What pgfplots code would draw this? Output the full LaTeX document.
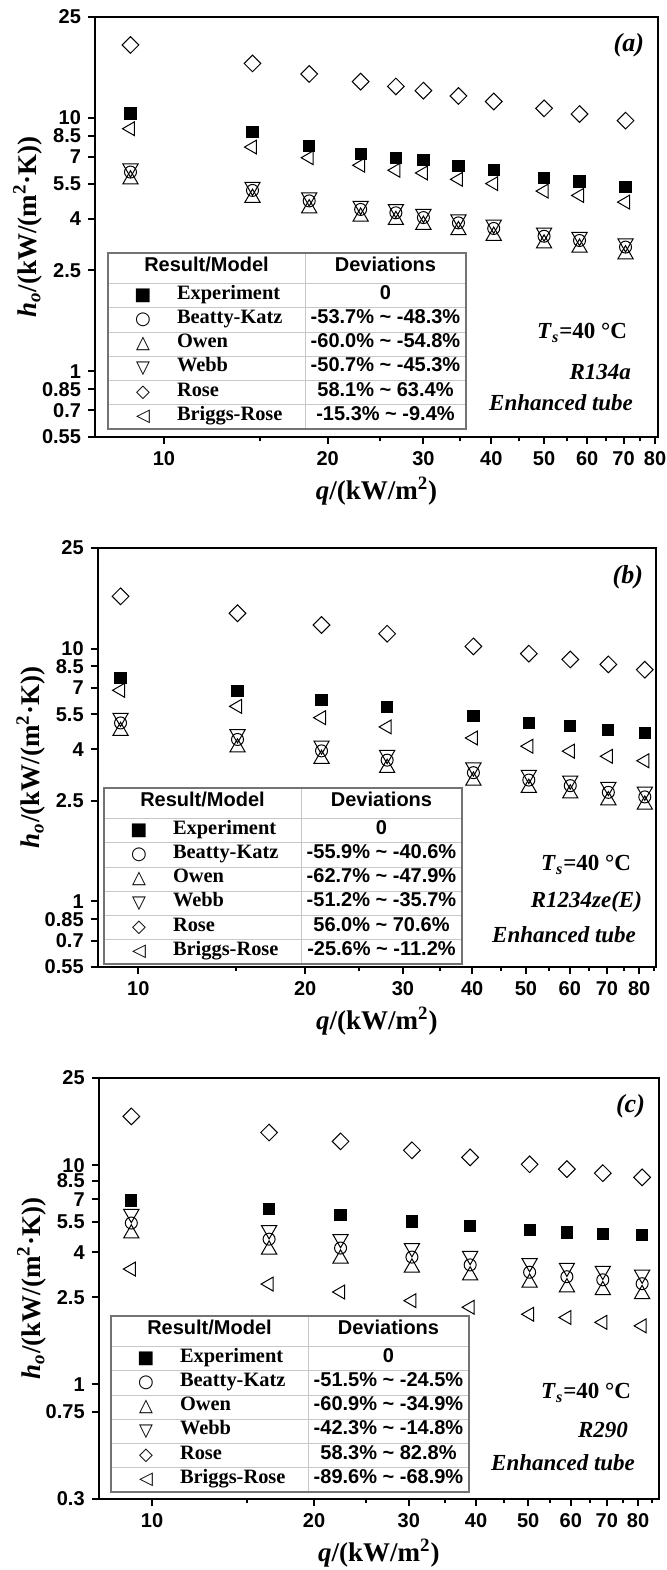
\documentclass[border=0pt]{standalone}
\usepackage{pgfplots}
\pgfplotsset{compat=1.18}
\usepackage{fontspec}
\setmainfont{Liberation Serif}
\newfontfamily\arial{Liberation Sans}
\newfontfamily\djv{DejaVu Sans}

\newcommand{\tsf}{\arial\bfseries\fontsize{10}{12}\selectfont}
\newcommand{\tserif}{\bfseries\fontsize{10.2}{12}\selectfont}
\newcommand{\anno}{\bfseries\fontsize{11.5}{13}\selectfont}

% settings shared by the three panels
\pgfplotsset{
  scale only axis,
  axis line style={line width=1.2pt},
  tick pos=left, tick align=outside,
  major tick length=3.5pt, minor tick length=2pt,
  tick style={black, line width=1pt},
  xtick={10,20,30,40,50,60,70,80},
  xticklabels={10,20,30,40,50,60,70,80},
  minor xtick={15,25,35,45,55,65,75,85},
  yminorticks=false,
  tick label style={font=\arial\bfseries\fontsize{10}{12}\selectfont},
  label style={font=\bfseries\fontsize{13.5}{16}\selectfont},
  xlabel style={at={(axis description cs:0.5,0)}, anchor=center, yshift=-27pt},
  ylabel style={at={(axis description cs:-0.12,0.5)}, anchor=center},
  every axis plot/.append style={black, line width=0.5pt, only marks},
  mExp/.style={mark=square*, mark size=2.8pt, mark options={fill=black}},
  mBK/.style={mark=o, mark size=3pt},
  mOw/.style={mark=triangle, mark size=4.4pt},
  mWb/.style={mark=triangle, mark size=4.4pt, mark options={rotate=180}},
  mRo/.style={mark=square, mark size=2.95pt, mark options={rotate=45}},
  mBR/.style={mark=triangle, mark size=4pt, mark options={rotate=90}},
}
\newcommand{\xlab}{\textit{q}/(kW/m\textsuperscript{2})}
\newcommand{\ylab}{\textit{h}\textsubscript{\textit{o}}/(kW/(m\textsuperscript{2}·K))}

% one row of the deviation table (units: px of the reference)
\newcommand{\trow}[4]{%
  \node[font=\djv\fontsize{9}{9}\selectfont] at (35,{30.5+24.25*(#1-0.5)}) {#2};
  \node[anchor=mid west, font=\tserif] at (62,{30.5+24.25*(#1-0.5)-1}) {#3};
  \node[anchor=mid, font=\tsf] at (277.5,{30.5+24.25*(#1-0.5)-1}) {#4};}

\newcommand{\devtable}[8]{%
  \begin{scope}[shift={({#1*0.5pt},{-#2*0.5pt})}, x=0.5pt, y=-0.5pt]
    \fill[white] (0,0) rectangle (358,176);
    \draw[black!22, line width=0.5pt] (197,0) -- (197,176);
    \foreach \r in {30.5,54.75,79,103.25,127.5,151.75}
      \draw[black!22, line width=0.5pt] (0,\r) -- (358,\r);
    \draw[black!55, line width=0.8pt] (0,0) rectangle (358,176);
    \node[anchor=mid, font=\tsf] at (98.5,14) {Result/Model};
    \node[anchor=mid, font=\tsf] at (277.5,14) {Deviations};
    \trow{1}{■}{Experiment}{#3}
    \trow{2}{○}{Beatty-Katz}{#4}
    \trow{3}{△}{Owen}{#5}
    \trow{4}{▽}{Webb}{#6}
    \trow{5}{◇}{Rose}{#7}
    \trow{6}{◁}{Briggs-Rose}{#8}
  \end{scope}}

\newcommand{\anote}[3]{\node[anchor=east, font=\anno] at ({#1*0.5pt},{-#2*0.5pt}) {#3};}

\begin{document}
\begin{tikzpicture}
\useasboundingbox (0,0) rectangle (333.5pt,-785pt);

% ---------- (a) R134a ----------
\begin{loglogaxis}[at={({95*0.5pt},{-17*0.5pt})}, anchor=north west,
  width=281.5pt, height=210pt,
  xmin=7.47, xmax=81.0, ymin=0.55, ymax=25,
  xlabel={\xlab}, ylabel={\ylab},
  ytick={0.55,0.7,0.85,1,2.5,4,5.5,7,8.5,10,25},
  yticklabels={0.55,0.7,0.85,1,2.5,4,5.5,7,8.5,10,25}]
\addplot[mRo] coordinates {(8.68,19.4) (14.55,16.4) (18.5,14.9) (23.0,13.9) (26.7,13.3) (30.0,12.8) (34.8,12.2) (40.4,11.6) (50.0,10.9) (58.1,10.35) (70.6,9.75)};
\addplot[mExp] coordinates {(8.68,10.4) (14.55,8.79) (18.5,7.72) (23.0,7.18) (26.7,6.96) (30.0,6.80) (34.8,6.45) (40.4,6.24) (50.0,5.80) (58.1,5.61) (70.6,5.33)};
\addplot[mBR] coordinates {(8.68,9.06) (14.55,7.67) (18.5,6.96) (23.0,6.50) (26.7,6.21) (30.0,6.06) (34.8,5.72) (40.4,5.50) (50.0,5.14) (58.1,4.94) (70.6,4.65)};
\addplot[mBK] coordinates {(8.68,6.11) (14.55,5.17) (18.5,4.70) (23.0,4.35) (26.7,4.22) (30.0,4.04) (34.8,3.85) (40.4,3.66) (50.0,3.41) (58.1,3.28) (70.6,3.09)};
\addplot[mOw] coordinates {(8.68,5.71) (14.55,4.83) (18.5,4.39) (23.0,4.07) (26.7,3.95) (30.0,3.78) (34.8,3.60) (40.4,3.42) (50.0,3.19) (58.1,3.07) (70.6,2.89)};
\addplot[mWb] coordinates {(8.68,6.32) (14.55,5.35) (18.5,4.86) (23.0,4.50) (26.7,4.37) (30.0,4.18) (34.8,3.98) (40.4,3.79) (50.0,3.53) (58.1,3.39) (70.6,3.20)};
\end{loglogaxis}
\devtable{108}{253}{0}{-53.7\% \textasciitilde{} -48.3\%}{-60.0\% \textasciitilde{} -54.8\%}{-50.7\% \textasciitilde{} -45.3\%}{58.1\% \textasciitilde{} 63.4\%}{-15.3\% \textasciitilde{} -9.4\%}
\node[anchor=east, font=\bfseries\itshape\fontsize{13}{15}\selectfont] at ({651*0.5pt},{-45*0.5pt}) {(a)};
\anote{634}{333}{\textit{T}\textsubscript{\textit{s}}=40 °C}
\anote{638}{372}{\textit{R134a}}
\anote{640}{403}{\textit{Enhanced tube}}

% ---------- (b) R1234ze(E) ----------
\begin{loglogaxis}[at={({97.7*0.5pt},{-548*0.5pt})}, anchor=north west,
  width=279.15pt, height=209.5pt,
  xmin=8.45, xmax=85.8, ymin=0.55, ymax=25,
  xlabel={\xlab}, ylabel={\ylab},
  ytick={0.55,0.7,0.85,1,2.5,4,5.5,7,8.5,10,25},
  yticklabels={0.55,0.7,0.85,1,2.5,4,5.5,7,8.5,10,25}]
\addplot[mRo] coordinates {(9.29,16.1) (15.1,13.8) (21.4,12.4) (28.1,11.45) (40.2,10.2) (50.6,9.55) (60.1,9.06) (70.4,8.66) (81.9,8.25)};
\addplot[mExp] coordinates {(9.29,7.67) (15.1,6.80) (21.4,6.28) (28.1,5.87) (40.2,5.41) (50.6,5.08) (60.1,4.94) (70.4,4.75) (81.9,4.64)};
\addplot[mBR] coordinates {(9.29,6.84) (15.1,5.91) (21.4,5.33) (28.1,4.90) (40.2,4.43) (50.6,4.11) (60.1,3.93) (70.4,3.75) (81.9,3.60)};
\addplot[mBK] coordinates {(9.29,5.08) (15.1,4.37) (21.4,3.94) (28.1,3.62) (40.2,3.23) (50.6,3.02) (60.1,2.87) (70.4,2.70) (81.9,2.59)};
\addplot[mOw] coordinates {(9.29,4.72) (15.1,4.06) (21.4,3.66) (28.1,3.37) (40.2,3.00) (50.6,2.81) (60.1,2.67) (70.4,2.51) (81.9,2.41)};
\addplot[mWb] coordinates {(9.29,5.33) (15.1,4.59) (21.4,4.14) (28.1,3.80) (40.2,3.39) (50.6,3.17) (60.1,3.01) (70.4,2.84) (81.9,2.72)};
\end{loglogaxis}
\devtable{104}{788}{0}{-55.9\% \textasciitilde{} -40.6\%}{-62.7\% \textasciitilde{} -47.9\%}{-51.2\% \textasciitilde{} -35.7\%}{56.0\% \textasciitilde{} 70.6\%}{-25.6\% \textasciitilde{} -11.2\%}
\node[anchor=east, font=\bfseries\itshape\fontsize{13}{15}\selectfont] at ({650*0.5pt},{-577*0.5pt}) {(b)};
\anote{638}{865}{\textit{T}\textsubscript{\textit{s}}=40 °C}
\anote{649}{902}{\textit{R1234ze(E)}}
\anote{643}{935}{\textit{Enhanced tube}}

% ---------- (c) R290 ----------
\begin{loglogaxis}[at={({98.7*0.5pt},{-1078*0.5pt})}, anchor=north west,
  width=280.15pt, height=210.5pt,
  xmin=7.96, xmax=87.5, ymin=0.3, ymax=25,
  xlabel={\xlab}, ylabel={\ylab},
  ytick={0.3,0.75,1,2.5,4,5.5,7,8.5,10,25},
  yticklabels={0.3,0.75,1,2.5,4,5.5,7,8.5,10,25}]
\addplot[mRo] coordinates {(9.15,16.7) (16.5,14.1) (22.4,12.85) (30.4,11.7) (39.0,10.86) (50.3,10.1) (59.0,9.60) (68.8,9.20) (81.4,8.80)};
\addplot[mExp] coordinates {(9.15,6.91) (16.5,6.31) (22.4,5.94) (30.4,5.54) (39.0,5.30) (50.3,5.08) (59.0,4.93) (68.8,4.86) (81.4,4.82)};
\addplot[mBR] coordinates {(9.15,3.36) (16.5,2.87) (22.4,2.64) (30.4,2.41) (39.0,2.25) (50.3,2.09) (59.0,2.02) (68.8,1.92) (81.4,1.85)};
\addplot[mBK] coordinates {(9.15,5.45) (16.5,4.60) (22.4,4.19) (30.4,3.81) (39.0,3.51) (50.3,3.25) (59.0,3.10) (68.8,3.00) (81.4,2.88)};
\addplot[mOw] coordinates {(9.15,4.88) (16.5,4.12) (22.4,3.75) (30.4,3.41) (39.0,3.14) (50.3,2.91) (59.0,2.77) (68.8,2.69) (81.4,2.58)};
\addplot[mWb] coordinates {(9.15,6.00) (16.5,5.06) (22.4,4.61) (30.4,4.19) (39.0,3.86) (50.3,3.58) (59.0,3.41) (68.8,3.30) (81.4,3.17)};
\end{loglogaxis}
\devtable{111}{1316}{0}{-51.5\% \textasciitilde{} -24.5\%}{-60.9\% \textasciitilde{} -34.9\%}{-42.3\% \textasciitilde{} -14.8\%}{58.3\% \textasciitilde{} 82.8\%}{-89.6\% \textasciitilde{} -68.9\%}
\node[anchor=east, font=\bfseries\itshape\fontsize{13}{15}\selectfont] at ({652*0.5pt},{-1106*0.5pt}) {(c)};
\anote{638}{1393}{\textit{T}\textsubscript{\textit{s}}=40 °C}
\anote{635}{1430}{\textit{R290}}
\anote{642}{1463}{\textit{Enhanced tube}}
\end{tikzpicture}
\end{document}
